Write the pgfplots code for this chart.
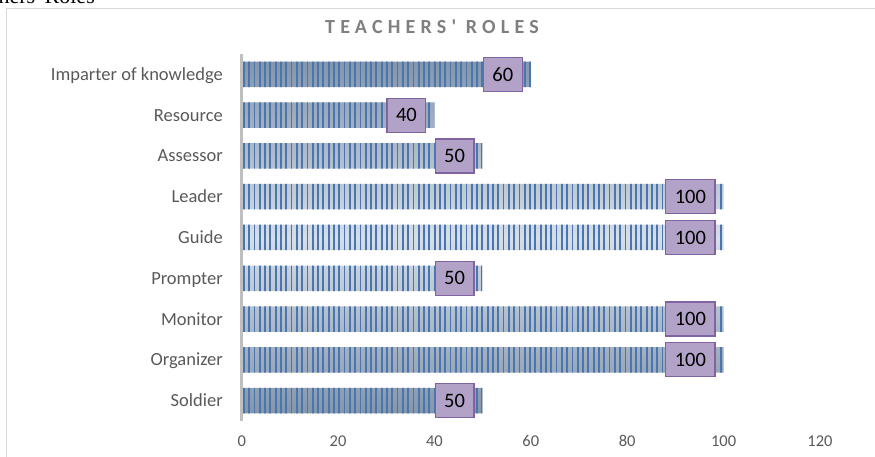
\documentclass[border=0pt]{standalone}
\usepackage{fontspec}
\setmainfont{Carlito}
\newfontfamily\titlefont[LetterSpace=26]{Carlito}
\newfontfamily\capfont{Liberation Serif}
\usepackage{pgfplots}
\pgfplotsset{compat=1.18}
\usetikzlibrary{patterns.meta}
\definecolor{framegray}{HTML}{D9D9D9}
\definecolor{axisgray}{HTML}{BFBFBF}
\definecolor{catgray}{HTML}{595959}
\definecolor{tickgray}{HTML}{595959}
\definecolor{titlegray}{HTML}{7F7F7F}
\definecolor{stripe}{HTML}{4A76B0}
\definecolor{barTop}{HTML}{8596AB}
\definecolor{barMid}{HTML}{D6DEE8}
\definecolor{boxfill}{HTML}{B3A2C7}
\definecolor{boxdraw}{HTML}{8064A2}
\begin{document}
\begin{tikzpicture}
\useasboundingbox (0,0) rectangle (875pt,457pt);
\clip (0,0) rectangle (875pt,457pt);
\draw[framegray, line width=1pt] (6.5pt,-5pt) -- (6.5pt,448.5pt) -- (885pt,448.5pt);
\node[anchor=base east, font=\capfont\fontsize{22}{26}\selectfont, inner sep=0pt] at (95pt,453.5pt) {Teachers' Roles};
\node[anchor=base, inner sep=0pt, font=\titlefont\bfseries\fontsize{20}{24}\selectfont, text=titlegray] at (432pt,423pt) {TEACHERS' ROLES};
\begin{axis}[
  at={(241.7pt,36pt)}, anchor=south west,
  scale only axis, width=578.3pt, height=367pt,
  xmin=0, xmax=120, ymin=-0.5, ymax=8.5,
  xtick={0,20,...,120}, ytick={0,...,8},
  yticklabels={Soldier,Organizer,Monitor,Prompter,Guide,Leader,Assessor,Resource,Imparter of knowledge},
  major tick length=0pt,
  axis line style={draw=none},
  /pgf/number format/assume math mode=true,
  xticklabel style={font=\fontsize{16.5}{20}\selectfont, text=tickgray, anchor=base, inner sep=0pt, yshift=-26pt},
  yticklabel style={font=\fontsize{18.5}{22}\selectfont, text=catgray, anchor=base east, inner sep=0pt, xshift=-18.7pt, yshift=-6pt},
  xbar, bar width=25.5pt,
  clip=false,
]
\addplot[bar shift=0pt, draw=none, top color=barTop, bottom color=barTop, middle color=barMid]
  coordinates {(50,0) (100,1) (100,2) (50,3) (100,4) (100,5) (50,6) (40,7) (60,8)};
\addplot[bar shift=0pt, draw=none, pattern={Lines[angle=90,distance=5.3pt,line width=1.8pt]}, pattern color=stripe,
  point meta=x, nodes near coords,
  every node near coord/.append style={anchor=east, xshift=-8pt, fill=boxfill, draw=boxdraw, line width=1.3pt, inner xsep=9pt, inner ysep=0pt, minimum height=34pt, text=black, font=\fontsize{20.5}{24}\selectfont}]
  coordinates {(50,0) (100,1) (100,2) (50,3) (100,4) (100,5) (50,6) (40,7) (60,8)};
\draw[axisgray, line width=3.5pt] (rel axis cs:0,0) -- (rel axis cs:0,1);
\end{axis}
\end{tikzpicture}
\end{document}
